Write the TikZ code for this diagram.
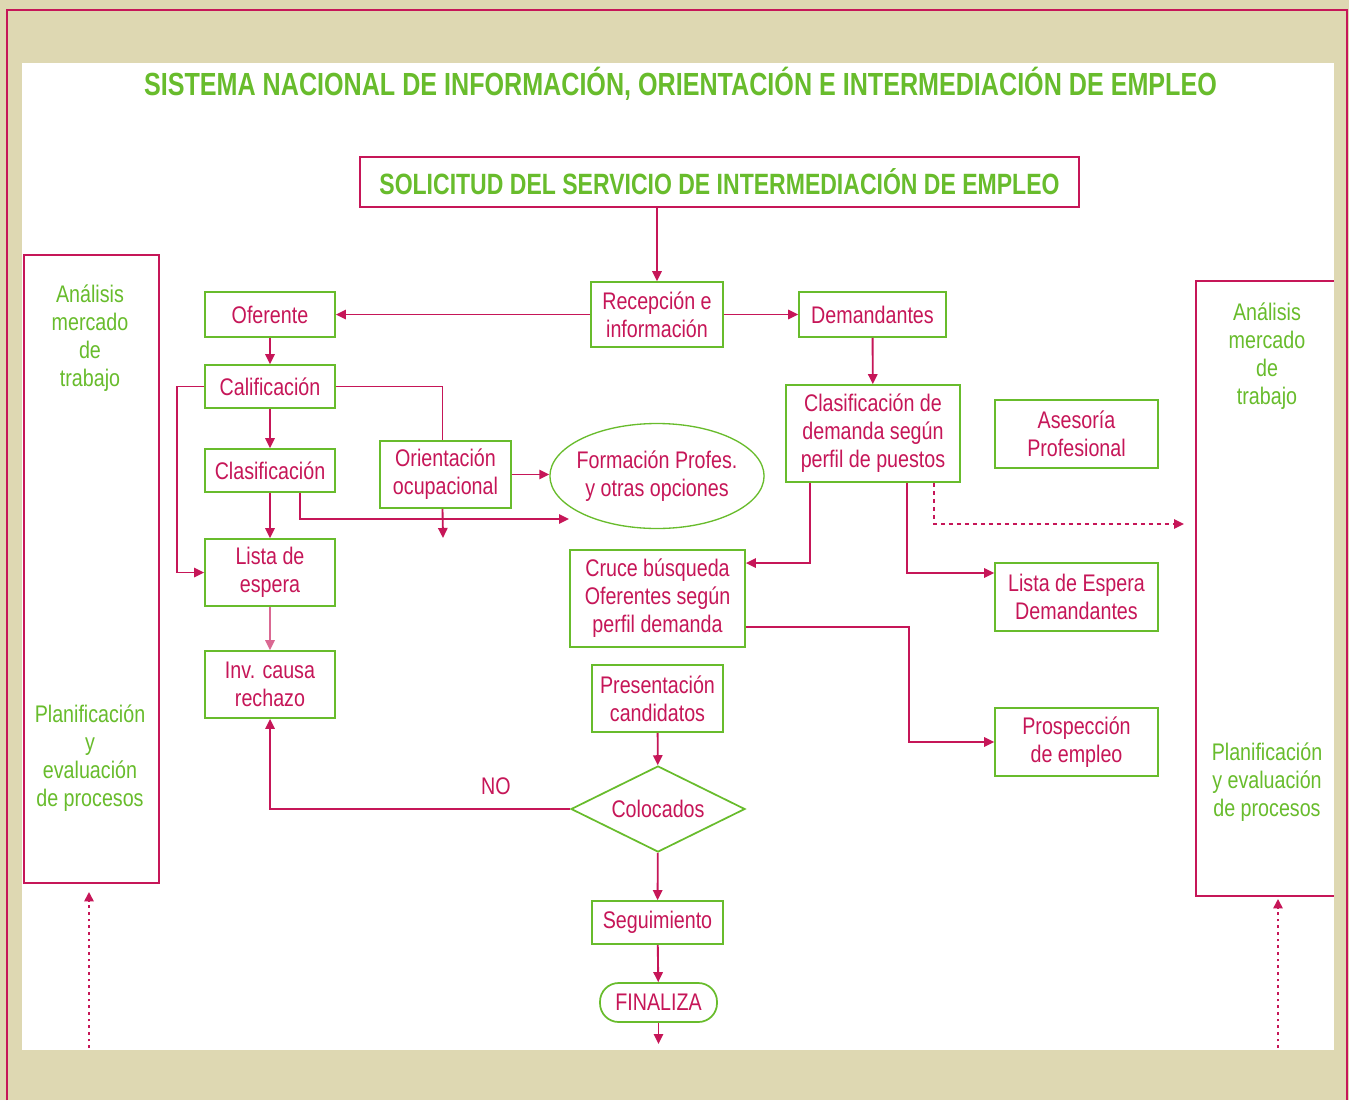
\documentclass[tikz,border=0pt]{standalone}
\usepackage{fontspec}
\setmainfont{Liberation Sans}[FakeStretch=0.82]
\newfontfamily\ttlfont{Liberation Sans}[FakeStretch=0.785]
\usetikzlibrary{shapes.geometric,arrows.meta,calc}
\definecolor{crim}{RGB}{198,22,88}
\definecolor{grn}{RGB}{104,188,44}
\definecolor{bgc}{RGB}{222,216,178}
\newcommand\bxfont{\fontsize{18}{21}\selectfont}
\begin{document}
\begin{tikzpicture}[x=0.75pt,y=-0.75pt,
  every node/.style={font=\bxfont},
  box/.style={draw=grn, line width=1.3pt, fill=white, text=crim, align=center, inner sep=0pt},
  sz/.style 2 args={minimum width=#1*0.75pt, minimum height=#2*0.75pt},
  ln/.style={draw=crim, line width=1.4pt},
  arr/.style={ln, -{Triangle[length=7.5pt,width=7pt]}},
  ptext/.style={text=grn, align=center},
  panel/.style={draw=crim, line width=1.3pt},
  dotarr/.style={draw=crim, line width=1.2pt, dash pattern=on 2pt off 3pt, -{Triangle[length=7pt,width=7pt]}}
]
% background and frame
\fill[bgc] (0,0) rectangle (1349,1100);
\useasboundingbox (0,0) rectangle (1349,1100);
\fill[white] (22,63) rectangle (1334,1050);
\draw[crim, line width=1.1pt] (7,1100) -- (7,10) -- (1347,10) -- (1347,1100);

% titles
\node[text=grn, font=\ttlfont\bfseries\fontsize{24}{28}\selectfont] (title) at (680.5,84) {SISTEMA NACIONAL DE INFORMACIÓN, ORIENTACIÓN E INTERMEDIACIÓN DE EMPLEO};
\node[draw=crim, line width=1.3pt, fill=white, text=grn, sz={719}{50}, font=\ttlfont\bfseries\fontsize{22}{26}\selectfont] (sol) at (719.5,182) {SOLICITUD DEL SERVICIO DE INTERMEDIACIÓN DE EMPLEO};

% side panels
\node[panel, fill=white, sz={135}{628}] (lp) at (91.5,569) {};
\node[ptext] (lpa) at (90,338) {Análisis\\mercado\\de\\trabajo};
\node[ptext] (lpb) at (90,758) {Planificación\\y\\evaluación\\de procesos};
\draw[panel] (1334,281) -- (1196,281) -- (1196,896) -- (1334,896);
\node[ptext] (rpa) at (1267,356) {Análisis\\mercado\\de\\trabajo};
\node[ptext] (rpb) at (1267,782) {Planificación\\y evaluación\\de procesos};

% boxes
\node[box, sz={132}{65}] (rec) at (657,314.5) {Recepción e\\información};
\node[box, sz={130}{45}] (ofe) at (270,314.5) {Oferente};
\node[box, sz={147}{45}] (dem) at (872.5,314.5) {Demandantes};
\node[box, sz={130}{43}] (cal) at (270,386.5) {Calificación};
\node[box, sz={130}{43}] (cla) at (270,470.5) {Clasificación};
\node[box, sz={131}{67}] (ori) at (445.5,474.5) {Orientación\\ocupacional};
\node[ellipse, draw=grn, line width=1pt, fill=white, text=crim, align=center, inner xsep=-3.5pt, inner ysep=0pt, sz={209}{105}] (form) at (657,476) {Formación Profes.\\y otras opciones};
\node[box, sz={174}{97}] (cdem) at (873,433.5) {Clasificación de\\demanda según\\perfil de puestos};
\node[box, sz={163}{68}] (ase) at (1076.5,434) {Asesoría\\Profesional};
\node[box, sz={130}{67}] (lista) at (270,572.5) {Lista de\\espera};
\node[box, sz={175}{97}] (cruce) at (657.5,598.5) {Cruce búsqueda\\Oferentes según\\perfil demanda};
\node[box, sz={163}{68}] (led) at (1076.5,597) {Lista de Espera\\Demandantes};
\node[box, sz={130}{67}] (inv) at (270,684.5) {Inv. causa\\rechazo};
\node[box, sz={131}{67}] (pres) at (657.5,698.5) {Presentación\\candidatos};
\node[box, sz={163}{68}] (pros) at (1076.5,742) {Prospección\\de empleo};
\node[diamond, aspect=2, draw=grn, line width=1.3pt, fill=white, text=crim, inner sep=0pt, sz={174}{86}] (col) at (658,809) {Colocados};
\node[box, sz={131}{43}] (seg) at (657.5,922.5) {Seguimiento};
\node[box, rounded corners=14pt, sz={117}{39}] (fin) at (658.5,1002.5) {FINALIZA};
\node[text=crim] (no) at (496,786) {NO};

% free ends
\coordinate (oriend) at (443,538);
\coordinate (claend) at (569,519);
\coordinate (dashend) at (1184,524);
\coordinate (finend) at (658.5,1044);
\coordinate (lpstart) at (89,1048);
\coordinate (lpend) at (89,892);
\coordinate (rpstart) at (1278,1048);
\coordinate (rpend) at (1278,899);

% connectors
\draw[arr] (sol.south -| rec.north) -- (rec.north);
\draw[arr] (rec.west) -- (ofe.east);
\draw[arr] (rec.east) -- (dem.west);
\draw[arr] (ofe) -- (cal);
\draw[arr] (cal) -- (cla);
\draw[arr] (cla) -- (lista);
\draw[arr] (cal.west) -- ++(-27,0) |- (lista.west);
\draw[ln] (cal.east) -| ($(ori.north)+(-3,0)$);
\draw[arr] (ori.east) -- (ori.east -| form.west);
\draw[arr] ($(ori.south)+(-3,0)$) -- (oriend);
\draw[arr] ($(cla.south)+(30,0)$) |- (claend);
\draw[arr, draw=crim!65] (lista) -- (inv);
\draw[arr] (dem) -- (cdem);
\draw[arr] ($(cdem.south)+(-63,0)$) |- ($(cruce.east)+(0,-35.5)$);
\draw[arr] ($(cdem.south)+(34,0)$) |- ($(led.west)+(0,-24)$);
\draw[arr, dashed] ($(cdem.south)+(61,0)$) |- (dashend);
\draw[arr] ($(cruce.east)+(0,28.5)$) -- ++(163,0) |- (pros.west);
\draw[arr] (pres) -- (col);
\draw[arr] (col.west) -| (inv.south);
\draw[arr] (col) -- (seg);
\draw[arr] (seg) -- (fin);
\draw[arr] (fin) -- (finend);
\draw[dotarr] (lpstart) -- (lpend);
\draw[dotarr] (rpstart) -- (rpend);
\end{tikzpicture}
\end{document}
